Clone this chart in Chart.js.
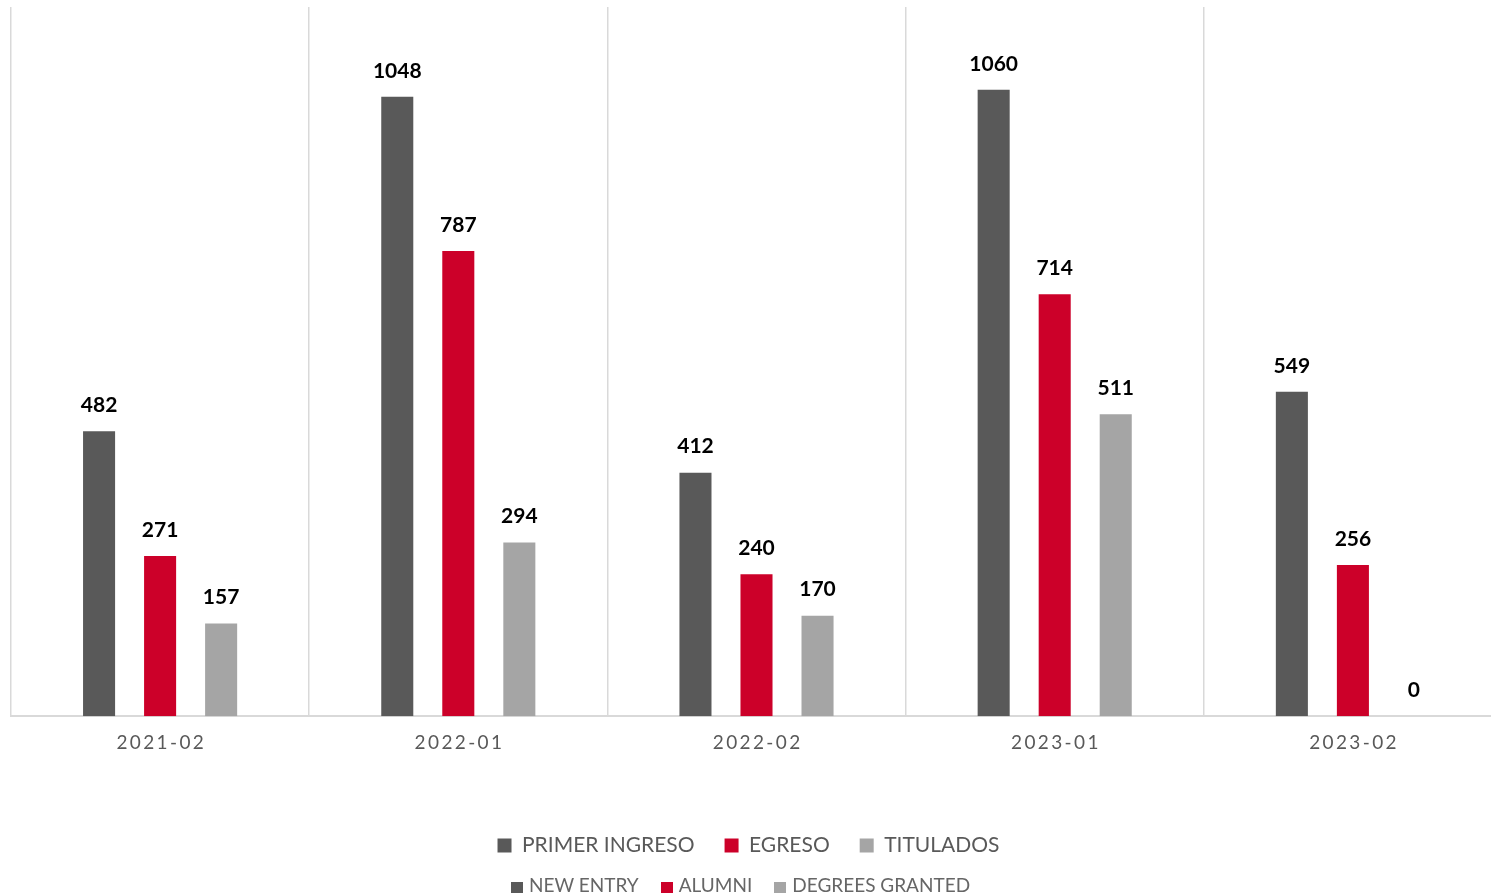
<!DOCTYPE html>
<html>
<head>
<meta charset="utf-8">
<script src="https://cdn.jsdelivr.net/npm/chart.js@4/dist/chart.umd.min.js"></script>
<style>
  html, body { margin: 0; padding: 0; background: #fff; overflow: hidden; }
  #wrap { position: absolute; left: 0; top: 0; width: 1502px; height: 893px; }
  #legend2 {
    position: absolute; left: 511px; top: 873px;
    font-family: Lato, sans-serif; font-size: 19px; color: #666;
    white-space: nowrap;
  }
  #legend2 span.box { display: inline-block; width: 12px; height: 11px; margin-right: 6px; vertical-align: -1px; }
  #legend2 span.item { margin-right: 22px; }
</style>
</head>
<body>
<div id="wrap"><canvas id="chart"></canvas></div>
<div id="legend2"></div>
<script>
const periods = ["2021-02", "2022-01", "2022-02", "2023-01", "2023-02"];
const primerIngreso = [482, 1048, 412, 1060, 549];
const egreso = [271, 787, 240, 714, 256];
const titulados = [157, 294, 170, 511, 0];
const seriesNames = ["PRIMER INGRESO", "EGRESO", "TITULADOS"];
const englishNames = ["NEW ENTRY", "ALUMNI", "DEGREES GRANTED"];
const colors = ["#595959", "#CC0029", "#A5A5A5"];

// second (english) legend row
const legend2 = document.getElementById("legend2");
englishNames.forEach((name, i) => {
  legend2.innerHTML += '<span class="item"><span class="box" style="background:' + colors[i] + '"></span>' + name + '</span>';
});

// value labels above each bar
const valueLabels = {
  id: "valueLabels",
  afterDatasetsDraw(chart) {
    const ctx = chart.ctx;
    ctx.save();
    ctx.font = "bold 21px Lato";
    ctx.fillStyle = "#000";
    ctx.textAlign = "center";
    ctx.textBaseline = "middle";
    chart.data.datasets.forEach((ds, di) => {
      chart.getDatasetMeta(di).data.forEach((bar, i) => {
        ctx.fillText(ds.data[i], bar.x, bar.y - 26);
      });
    });
    ctx.restore();
  }
};

// legend sits a little left of the canvas centre in the original
const legendShift = {
  id: "legendShift",
  afterLayout(chart) {
    chart.legend.left -= 8;
    chart.legend.right -= 8;
  }
};

const ctx = document.getElementById("chart").getContext("2d");
new Chart(ctx, {
  type: "bar",
  data: {
    labels: periods,
    datasets: [
      { label: seriesNames[0], data: primerIngreso, backgroundColor: colors[0] },
      { label: seriesNames[1], data: egreso, backgroundColor: colors[1] },
      { label: seriesNames[2], data: titulados, backgroundColor: colors[2] }
    ]
  },
  options: {
    responsive: true,
    maintainAspectRatio: false,
    animation: false,
    datasets: { bar: { categoryPercentage: 0.614, barPercentage: 0.525 } },
    layout: { padding: { left: 11, top: 7, right: 0, bottom: 27 } },
    plugins: {
      tooltip: { enabled: false },
      legend: {
        position: "bottom",
        labels: {
          boxWidth: 14, boxHeight: 14, padding: 30,
          color: "#595959",
          font: { family: "Lato", size: 21 }
        }
      }
    },
    scales: {
      x: {
        grid: { color: "#d9d9d9", lineWidth: 1.5, offset: true, drawTicks: false },
        border: { color: "#d9d9d9", width: 2 },
        afterFit(scale) { scale.height += 36; },
        ticks: {
          color: "#595959", padding: 15,
          font: { family: "Lato", size: 19 },
          callback: function(v) { return this.getLabelForValue(v).split("").join("\u2009"); }
        }
      },
      y: { display: false, min: 0, max: 1200 }
    }
  },
  plugins: [valueLabels, legendShift]
});
</script>
</body>
</html>
